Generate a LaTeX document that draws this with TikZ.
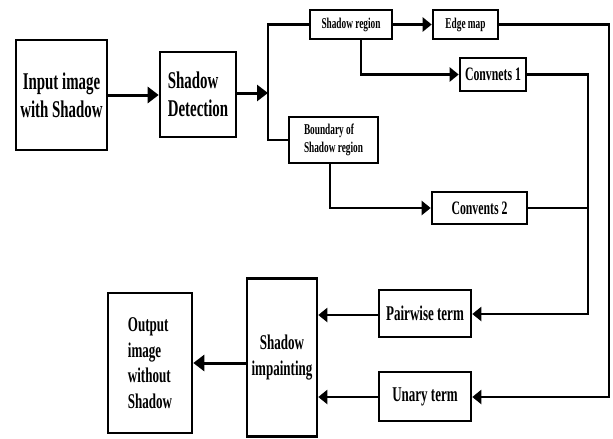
\documentclass[tikz,border=0pt]{standalone}
\usepackage{fontspec}
\newfontfamily\tf[FakeStretch=0.62]{Liberation Serif}
\usetikzlibrary{arrows.meta,calc}
\tikzset{
  blk/.style={draw, line width=2.6pt, inner sep=0pt, align=center, text=black},
  big/.style={font=\tf\bfseries\fontsize{24}{28}\selectfont},
  mid/.style={font=\tf\bfseries\fontsize{21}{25.5}\selectfont},
  med/.style={font=\tf\bfseries\fontsize{19}{22}\selectfont},
  sml/.style={font=\tf\bfseries\fontsize{15}{18.5}\selectfont},
  wire/.style={line width=2.2pt},
  bigarr/.style={line width=3pt, -{Triangle[length=11pt,width=16pt]}},
  arr/.style={line width=2.2pt, -{Triangle[length=9pt,width=14pt]}},
}
\begin{document}
\begin{tikzpicture}[x=1pt,y=-1pt]
\useasboundingbox (0,0) rectangle (613,439);
% boxes
\node[blk,big,minimum width=91pt,minimum height=110pt] (in) at (61.5,95) {Input image\\with Shadow};
\node[blk,big,minimum width=76pt,minimum height=85pt,align=left] (det) at (198,94.5) {Shadow\\Detection};
\node[blk,sml,minimum width=82pt,minimum height=29pt] (sr) at (351,24.5) {Shadow region};
\node[blk,sml,minimum width=65pt,minimum height=29pt] (em) at (465.5,24.5) {Edge map};
\node[blk,med,minimum width=66pt,minimum height=33pt] (c1) at (493,74.5) {Convnets 1};
\node[blk,sml,minimum width=89pt,minimum height=46pt,align=left] (bd) at (333.5,140) {Boundary of\\Shadow region};
\node[blk,med,minimum width=95pt,minimum height=32pt] (c2) at (479.5,208) {Convents 2};
\node[blk,mid,minimum width=92pt,minimum height=47pt] (pw) at (425,313.5) {Pairwise term};
\node[blk,mid,minimum width=92pt,minimum height=49pt] (un) at (425,396.5) {Unary term};
\node[blk,mid,minimum width=70pt,minimum height=158pt] (imp) at (282,357.5) {Shadow\\impainting};
\node[blk,mid,minimum width=84pt,minimum height=140pt,align=left] (out) at (150,363) {Output\\image\\without\\Shadow};
% junction coordinates
\coordinate (split) at (268,93);
\coordinate (splitT) at (268,24.5);
\coordinate (splitB) at (268,140);
\coordinate (srb) at (361,74.5);
\coordinate (bdb) at (330,208);
\coordinate (rin) at (588,74.5);
\coordinate (rinb) at (588,314);
\coordinate (rout) at (609,24.5);
\coordinate (routb) at (609,397);
% connectors
\draw[bigarr] (in.east |- 0,95) -- (det.west |- 0,95);
\draw[bigarr] (det.east |- split) -- (split);
\draw[wire] (sr.west) -- (splitT) -- (splitB) -- (bd.west);
\draw[arr] (sr.east) -- (em.west);
\draw[arr] ([xshift=10pt]sr.south) -- ([xshift=10pt]sr.south |- srb) -- (c1.west);
\draw[arr] (bd.south -| bdb) -- (bdb) -- (c2.west);
\draw[arr] (c1.east) -- (rin) -- (rinb) -- (pw.east |- rinb);
\draw[wire] (c2.east) -- (c2.east -| rin);
\draw[arr] (em.east) -- (rout) -- (routb) -- (un.east |- routb);
\draw[arr] (pw.west |- 0,315) -- (imp.east |- 0,315);
\draw[arr] (un.west |- 0,397) -- (imp.east |- 0,397);
\draw[bigarr] (imp.west |- 0,363) -- (out.east |- 0,363);
\end{tikzpicture}
\end{document}
